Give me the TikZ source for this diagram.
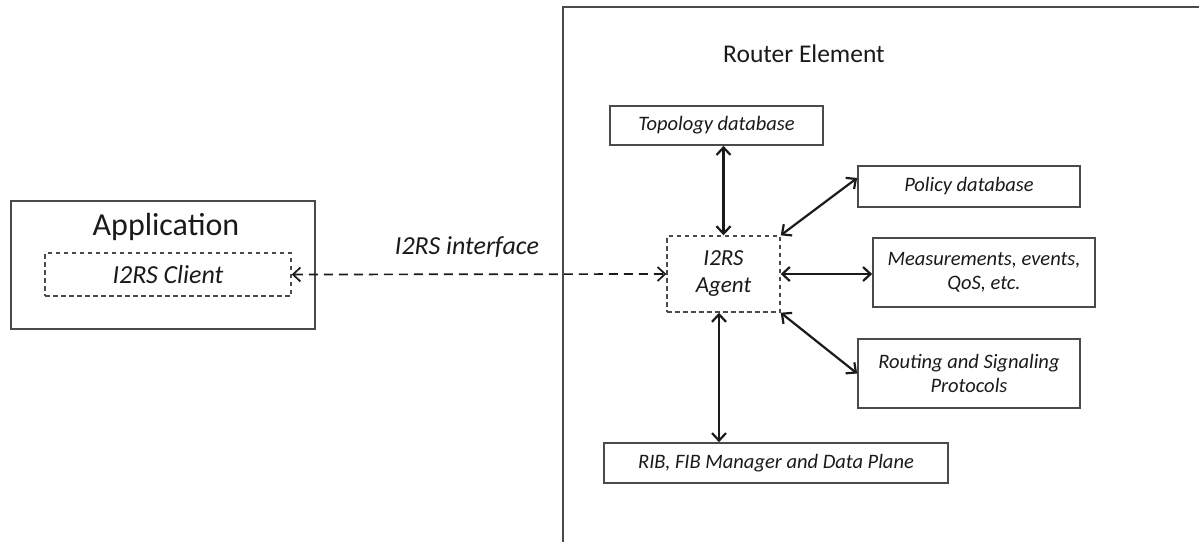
\documentclass[tikz,border=0pt]{standalone}
\usepackage{fontspec}
\setmainfont{Carlito}
\usetikzlibrary{arrows.meta}
\definecolor{boxline}{HTML}{4A4A4A}
\definecolor{ink}{HTML}{1A1A1A}
\tikzset{
  box/.style={draw=boxline, line width=1.7pt, rectangle, inner sep=0pt, align=center,
              text=ink, font=\itshape\fontsize{20.5}{24}\selectfont},
  dbox/.style={box, dash pattern=on 4.5pt off 3.5pt, line width=1.4pt},
  link/.style={line width=2.2pt, draw=ink, {Straight Barb[length=7.5pt,width=14pt]}-{Straight Barb[length=7.5pt,width=14pt]}},
  dlink/.style={link, line width=1.7pt, dash pattern=on 9pt off 6pt}
}
\begin{document}
\begin{tikzpicture}[x=1pt,y=-1pt]
\useasboundingbox (0,0) rectangle (1199,542);
\fill[white] (0,0) rectangle (1199,542);

% Application side
\node[box, minimum width=304pt, minimum height=128pt] (app) at (163,265) {};
\node[text=ink, font=\fontsize{32}{36}\selectfont] (apptitle) at (166,227) {Application};
\node[dbox, minimum width=246pt, minimum height=43pt, font=\itshape\fontsize{26}{30}\selectfont] (client) at (168,274.5) {I2RS Client};

% Router element frame (continues past the right and bottom edges)
\draw[draw=boxline, line width=1.7pt] (563,542) -- (563,7) -- (1199,7);
\node[text=ink, font=\fontsize{25.5}{30}\selectfont] (rtitle) at (804,54) {Router Element};

% Router components
\node[box, minimum width=213pt, minimum height=39pt] (topo) at (716.5,125.5) {Topology database};
\node[box, minimum width=222pt, minimum height=41pt] (policy) at (969,186.5) {Policy database};
\node[box, minimum width=222pt, minimum height=69pt] (meas) at (984,272.5) {Measurements, events,\\QoS, etc.};
\node[box, minimum width=222pt, minimum height=69pt] (routing) at (969,373.5) {Routing and Signaling\\Protocols};
\node[box, minimum width=344pt, minimum height=40pt] (rib) at (776,463) {RIB, FIB Manager and Data Plane};
\node[dbox, minimum width=113pt, minimum height=76pt, font=\itshape\fontsize{23}{27}\selectfont] (agent) at (723.5,274) {I2RS\\Agent};

% Interface label
\node[text=ink, font=\itshape\fontsize{26}{30}\selectfont] (iflabel) at (467,247) {I2RS interface};

% Connectors
\draw[dlink] (client.east) -- (agent.west);
\draw[link] (topo.south -| agent.north) -- (agent.north);
\draw[link] ([xshift=-4.5pt]agent.south) -- ([xshift=-4.5pt]agent.south |- rib.north);
\draw[link] (agent.east) -- (agent.east -| meas.west);
\draw[link] (agent.north east) -- ([yshift=8.5pt]policy.west);
\draw[link] (agent.south east) -- (routing.west);
\end{tikzpicture}
\end{document}
